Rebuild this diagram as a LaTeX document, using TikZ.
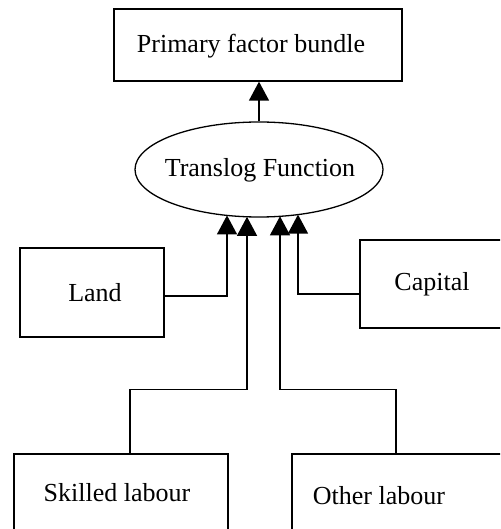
\documentclass[tikz,border=0pt]{standalone}
\usepackage{fontspec}
\setmainfont{Liberation Serif}
\usetikzlibrary{shapes.geometric,arrows.meta}
\begin{document}
\begin{tikzpicture}[x=1pt,y=-1pt,
  box/.style={draw,line width=1.3pt,rectangle,inner sep=0pt},
  txt/.style={inner sep=0pt,font=\fontsize{26}{30}\selectfont},
  conn/.style={line width=1.3pt},
  arr/.style={conn,-{Triangle[length=19pt,width=20pt]}}]
\useasboundingbox (0,0) rectangle (500,529);
\clip (0,0) rectangle (500,529);
% boxes
\node[box,minimum width=288pt,minimum height=72pt] (pf) at (258,45) {};
\node[draw,line width=1.3pt,ellipse,inner sep=0pt,minimum width=248pt,minimum height=95pt] (tl) at (259,169.5) {};
\node[box,minimum width=144pt,minimum height=89pt] (land) at (92,292.5) {};
\node[box,minimum width=144pt,minimum height=88pt] (cap) at (432,284) {};
\node[box,minimum width=214pt,minimum height=120pt] (sk) at (121,514) {};
\node[box,minimum width=238pt,minimum height=120pt] (ol) at (411,514) {};
% texts
\node[txt] (pft) at (251,46) {Primary factor bundle};
\node[txt] (tlt) at (260,170) {Translog Function};
\node[txt] (landt) at (95,293) {Land};
\node[txt] (capt) at (432,284) {Capital};
\node[txt] (skt) at (117,493) {Skilled labour};
\node[txt] (olt) at (379,496) {Other labour};
% arrow tips on ellipse
\coordinate (t1) at (227,215.4);
\coordinate (t2) at (247,216.8);
\coordinate (t3) at (280,216.3);
\coordinate (t4) at (298,214.6);
% connectors
\draw[arr] (tl.north) -- (tl.north |- pf.south);
\draw[arr] ([yshift=-3.5pt]land.east) -| (t1);
\draw[arr] ([yshift=-10pt]cap.west) -| (t4);
\draw[arr] ([xshift=9pt]sk.north) -- ++(0,-64) -| (t2);
\draw[arr] ([xshift=-15pt]ol.north) -- ++(0,-64) -| (t3);
\end{tikzpicture}
\end{document}
